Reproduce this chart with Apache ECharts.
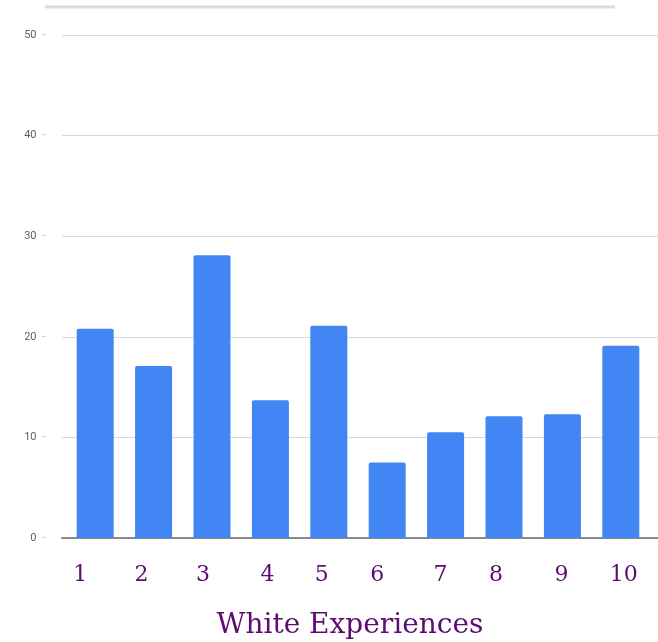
<!DOCTYPE html>
<html>
<head>
<meta charset="utf-8">
<script src="https://cdn.jsdelivr.net/npm/echarts@6/dist/echarts.min.js"></script>
<style>
  html, body { margin: 0; padding: 0; background: #fff; }
  #chart { width: 658px; height: 642px; }
</style>
</head>
<body>
<div id="chart"></div>
<script>
const categories = ["1", "2", "3", "4", "5", "6", "7", "8", "9", "10"];
const counts = [20.8, 17.1, 28.1, 13.7, 21.1, 7.5, 10.5, 12.1, 12.3, 19.1];
const yTicks = { min: 0, max: 50, interval: 10 };
const axisTitle = "White Experiences";

const purple = "#5e0b72";
const chart = echarts.init(document.getElementById("chart"), null, { renderer: "canvas" });

// the numbers under the bars were placed by hand in the original, a little left of centre
const labelNudge = [-15, -12, -9, -3, -7, -10, -5, -8, -1, 3];
const labelRich = {};
labelNudge.forEach((dx, i) => {
    labelRich["l" + i] = {
        color: purple,
        fontFamily: "DejaVu Serif",
        fontSize: 22,
        padding: dx < 0 ? [0, -2 * dx, 0, 0] : [0, 0, 0, 2 * dx],
    };
});

const option = {
    animation: false,
    backgroundColor: "#fff",
    title: {
        text: axisTitle,
        left: 345,
        top: 607,
        textAlign: "center",
        textStyle: {
            color: purple,
            fontFamily: "DejaVu Serif",
            fontSize: 28,
            fontWeight: "normal",
        },
    },
    grid: [
        // bars
        { left: 66, right: 8, top: 35, bottom: 104, containLabel: false },
        // gridlines + y labels, which run a bit wider than the bars
        { left: 62, right: 0, top: 35, bottom: 104, containLabel: false },
    ],
    graphic: [{
        type: "line",
        shape: { x1: 45, y1: 7, x2: 615, y2: 7 },
        style: { stroke: "#d7dce2", lineWidth: 3 },
        silent: true,
    }],
    xAxis: [{
        type: "category",
        gridIndex: 0,
        data: categories,
        axisLine: { show: false },
        axisTick: { show: false },
        axisLabel: {
            margin: 26,
            formatter: (v, i) => `{l${i}|${v}}`,
            rich: labelRich,
        },
    }, {
        type: "category",
        gridIndex: 1,
        data: categories,
        axisLine: { show: true, lineStyle: { color: "#8a8a8a", width: 2 } },
        axisTick: { show: false },
        axisLabel: { show: false },
    }],
    yAxis: [{
        type: "value",
        gridIndex: 0,
        min: yTicks.min,
        max: yTicks.max,
        interval: yTicks.interval,
        show: false,
    }, {
        type: "value",
        gridIndex: 1,
        min: yTicks.min,
        max: yTicks.max,
        interval: yTicks.interval,
        axisLine: { show: false },
        axisTick: { show: false },
        splitLine: { lineStyle: { color: "#d9d9d9", width: 1 } },
        axisLabel: {
            margin: 17,
            formatter: v => `{n|${v}}{d|  -}`,
            rich: {
                n: { color: "#5f5f5f", fontFamily: "Roboto", fontSize: 11 },
                d: { color: "#b5b5b5", fontFamily: "Roboto", fontSize: 11 },
            },
        },
    }],
    series: [{
        type: "bar",
        xAxisIndex: 0,
        yAxisIndex: 0,
        data: counts,
        barWidth: 37,
        itemStyle: { color: "#4285f4", borderRadius: [2, 2, 0, 0] },
        z: 3,
    }],
};

chart.setOption(option);
</script>
</body>
</html>
